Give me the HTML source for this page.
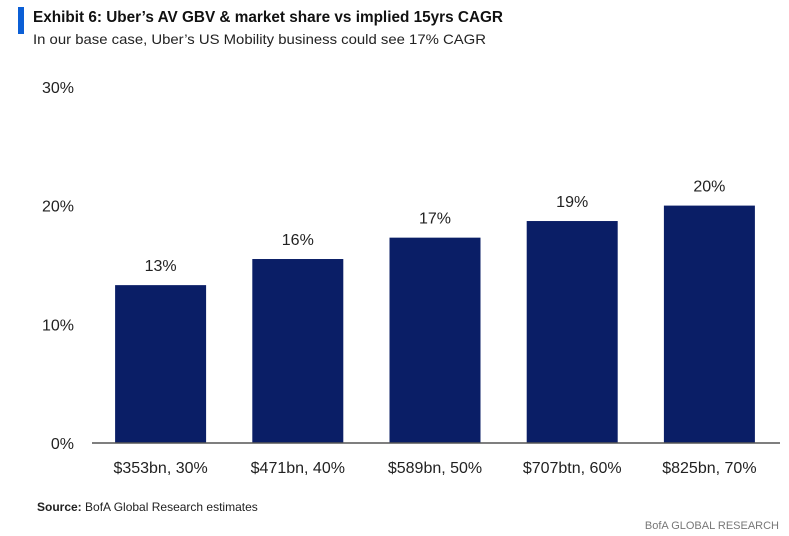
<!DOCTYPE html>
<html><head><meta charset="utf-8"><style>
body{margin:0;background:#fff;width:789px;height:536px;overflow:hidden;font-family:"Liberation Sans",sans-serif}
</style></head><body>
<svg width="789" height="536" style="position:absolute;left:0;top:0">
<rect x="18" y="7" width="6" height="27" fill="#0b5fd6"/>
<text x="33" y="22" font-size="16" font-weight="bold" fill="#111" textLength="470" lengthAdjust="spacingAndGlyphs">Exhibit 6: Uber’s AV GBV &amp; market share vs implied 15yrs CAGR</text>
<text x="33" y="44" font-size="14" fill="#222" textLength="453" lengthAdjust="spacingAndGlyphs">In our base case, Uber’s US Mobility business could see 17% CAGR</text>
<g id="yaxis"></g>
<g id="bars"></g>
<line x1="92" y1="443" x2="780" y2="443" stroke="#555" stroke-width="1.5"/>
<text x="37" y="511" font-size="12" fill="#222"><tspan font-weight="bold">Source:</tspan> BofA Global Research estimates</text>
<text x="779" y="529" font-size="11" fill="#777" text-anchor="end">BofA GLOBAL RESEARCH</text>
</svg>
<script>
const categories=["$353bn, 30%","$471bn, 40%","$589bn, 50%","$707btn, 60%","$825bn, 70%"];
const values=[13.3,15.5,17.3,18.7,20.0];
const valueLabels=["13%","16%","17%","19%","20%"];
const yTicks=[0,10,20,30];
const yTickLabels=["0%","10%","20%","30%"];
const NS="http://www.w3.org/2000/svg";
const y0=443,pxPer=11.87;
function yScale(v){return y0-v*pxPer;}
const x0=92,band=137.2,barW=91;
function xCenter(i){return x0+band*(i+0.5);}
const ya=document.getElementById('yaxis'),bg=document.getElementById('bars');
yTicks.forEach((t,i)=>{const tx=document.createElementNS(NS,'text');
tx.setAttribute('x',74);tx.setAttribute('y',yScale(t)+6);tx.setAttribute('font-size','16');tx.setAttribute('text-anchor','end');tx.setAttribute('fill','#222');


tx.textContent=yTickLabels[i];ya.appendChild(tx);});
values.forEach((v,i)=>{const cx=xCenter(i);
const r=document.createElementNS(NS,'rect');
r.setAttribute('x',cx-barW/2);r.setAttribute('y',yScale(v));r.setAttribute('width',barW);r.setAttribute('height',y0-yScale(v));r.setAttribute('fill','#0a1e66');


bg.appendChild(r);
const l=document.createElementNS(NS,'text');
l.setAttribute('x',cx);l.setAttribute('y',yScale(v)-14);l.setAttribute('font-size','16');l.setAttribute('text-anchor','middle');l.setAttribute('fill','#222');


l.textContent=valueLabels[i];bg.appendChild(l);
const c=document.createElementNS(NS,'text');
c.setAttribute('x',cx);c.setAttribute('y',473);c.setAttribute('font-size','16');c.setAttribute('text-anchor','middle');c.setAttribute('fill','#222');


c.textContent=categories[i];bg.appendChild(c);});
</script>
</body></html>
